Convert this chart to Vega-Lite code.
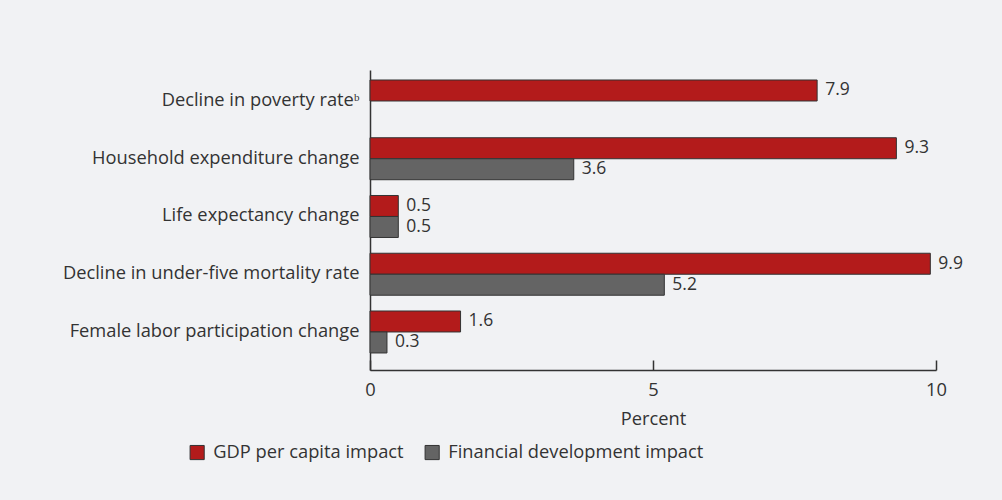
{
  "$schema": "https://vega.github.io/schema/vega-lite/v6.json",
  "width": 566,
  "height": 300,
  "autosize": {"type": "none"},
  "padding": {"left": 370, "top": 70, "right": 66, "bottom": 130},
  "background": "#f1f2f4",
  "data": {
    "values": [
      {"indicator": "Decline in poverty rateᵇ", "series": "GDP per capita impact", "value": 7.9},
      {"indicator": "Household expenditure change", "series": "GDP per capita impact", "value": 9.3},
      {"indicator": "Household expenditure change", "series": "Financial development impact", "value": 3.6},
      {"indicator": "Life expectancy change", "series": "GDP per capita impact", "value": 0.5},
      {"indicator": "Life expectancy change", "series": "Financial development impact", "value": 0.5},
      {"indicator": "Decline in under-five mortality rate", "series": "GDP per capita impact", "value": 9.9},
      {"indicator": "Decline in under-five mortality rate", "series": "Financial development impact", "value": 5.2},
      {"indicator": "Female labor participation change", "series": "GDP per capita impact", "value": 1.6},
      {"indicator": "Female labor participation change", "series": "Financial development impact", "value": 0.3}
    ]
  },
  "encoding": {
    "y": {
      "field": "indicator",
      "type": "nominal",
      "sort": ["Decline in poverty rateᵇ", "Household expenditure change", "Life expectancy change", "Decline in under-five mortality rate", "Female labor participation change"],
      "scale": {"paddingInner": 0.273, "paddingOuter": 0.234, "align": 0.37},
      "axis": {
        "title": null,
        "ticks": false,
        "domain": true,
        "domainColor": "#333333",
        "domainWidth": 1.5,
        "labelPadding": 11,
        "labelFont": "Open Sans",
        "labelFontSize": 18.3,
        "labelColor": "#333333",
        "labelLimit": 400
      }
    },
    "yOffset": {
      "field": "series",
      "type": "nominal",
      "scale": {"domain": ["GDP per capita impact", "Financial development impact"], "paddingInner": 0, "paddingOuter": 0}
    },
    "x": {
      "field": "value",
      "type": "quantitative",
      "scale": {"domain": [0, 10], "nice": false},
      "axis": {
        "title": "Percent",
        "values": [0, 5, 10],
        "grid": false,
        "tickSize": -10,
        "tickColor": "#333333",
        "tickWidth": 1.5,
        "domainColor": "#333333",
        "domainWidth": 1.5,
        "labelFlush": false,
        "labelPadding": 21,
        "labelFont": "Open Sans",
        "labelFontSize": 18.3,
        "labelColor": "#333333",
        "titleFont": "Open Sans",
        "titleFontSize": 18.3,
        "titleFontWeight": "normal",
        "titleColor": "#333333",
        "titlePadding": 12
      }
    }
  },
  "layer": [
    {
      "mark": {"type": "bar", "stroke": "#333333", "strokeWidth": 1},
      "encoding": {
        "color": {
          "field": "series",
          "type": "nominal",
          "scale": {"domain": ["GDP per capita impact", "Financial development impact"], "range": ["#b31b1b", "#646464"]},
          "legend": {
            "orient": "none",
            "legendX": -182,
            "legendY": 373,
            "direction": "horizontal",
            "title": null,
            "symbolType": "square",
            "symbolSize": 200,
            "symbolStrokeColor": "#333333",
            "symbolStrokeWidth": 1,
            "symbolOpacity": 1,
            "labelFont": "Open Sans",
            "labelFontSize": 18.3,
            "labelColor": "#333333",
            "labelOffset": 7,
            "columnPadding": 19,
            "labelLimit": 400
          }
        }
      }
    },
    {
      "mark": {"type": "text", "align": "left", "baseline": "middle", "dx": 8, "font": "Open Sans", "fontSize": 17.5, "color": "#333333"},
      "encoding": {
        "text": {"field": "value", "type": "quantitative", "format": ".1f"}
      }
    }
  ],
  "config": {
    "view": {"stroke": null}
  }
}
